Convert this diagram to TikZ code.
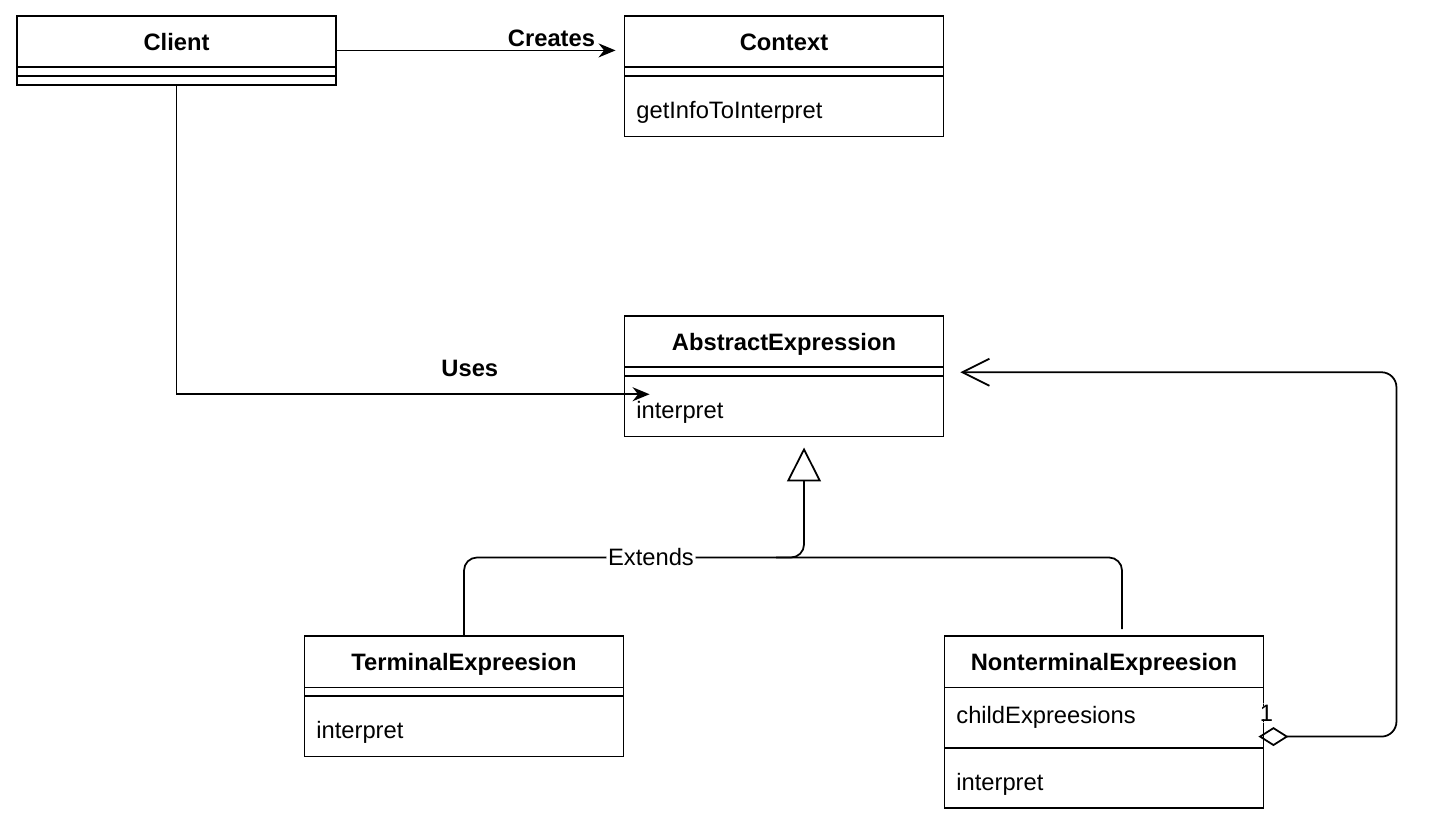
\documentclass[tikz,border=0pt]{standalone}
\usepackage{fontspec}
\setmainfont{Liberation Sans}
\usepackage{tikz}
\usepackage{pgf-umlcd}
\usetikzlibrary{arrows.meta,calc}

\def\umlfillcolor{white}
\def\umldrawcolor{black}
\newcommand{\opstrut}{\rule[-7.9pt]{0pt}{29.4pt}}
\newcommand{\attrstrut}{\rule[-11.3pt]{0pt}{29.4pt}}

\tikzset{
  umlbox/.style={line width=1pt, text width=168pt, inner xsep=6.8pt, inner ysep=2pt,
    text height=17pt, text depth=7.3pt,
    rectangle split empty part height=0pt, rectangle split empty part depth=0pt},
  umlline/.style={line width=1pt},
  umlarrow/.style={umlline, -{Stealth[length=0.34cm,width=0.28cm]}}
}

\begin{document}
\begin{tikzpicture}[font=\fontsize{13.5}{16}\selectfont, line width=1pt]
\useasboundingbox (0,0) rectangle (28.96,-16.62);

\begin{class}[umlbox]{Client}{3.53,-0.3}
\end{class}
\begin{class}[umlbox]{Context}{15.68,-0.3}
\operation{\opstrut getInfoToInterpret}
\end{class}
\begin{class}[umlbox]{AbstractExpression}{15.68,-6.3}
\operation{\opstrut interpret}
\end{class}
\begin{class}[umlbox]{TerminalExpreesion}{9.28,-12.7}
\operation{\opstrut interpret}
\end{class}
\begin{class}[umlbox]{NonterminalExpreesion}{22.08,-12.7}
\attribute{\attrstrut childExpreesions}
\operation{\opstrut interpret}
\end{class}

\coordinate (usesEnd) at ([shift={(0.52,-0.36)}]AbstractExpression.west);
\coordinate (extendsTip) at ([shift={(0.4,-0.2)}]AbstractExpression.south);
\coordinate (aggStart) at ([shift={(-0.12,-0.29)}]NonterminalExpreesion.east);
\coordinate (aggEnd) at ([shift={(0.32,0.08)}]AbstractExpression.east);

\draw[umlarrow] (Client.east) -- node[pos=0.77, above, inner sep=1pt, yshift=0.02cm, font=\fontsize{13.5}{16}\selectfont\bfseries]{Creates} ([xshift=-0.16cm]Client.east -| Context.west);
\draw[umlarrow] (Client.south) |- node[pos=0.81, above=0.21cm, font=\fontsize{13.5}{16}\selectfont\bfseries]{Uses} (usesEnd);
\draw[umlline, rounded corners=0.26cm, -{Triangle[open,length=0.68cm,width=0.68cm]}] (TerminalExpreesion.north) |- node[pos=0.775, fill=white, inner sep=1pt]{Extends} ([yshift=-2.2cm]extendsTip) -- (extendsTip);
\draw[umlline, rounded corners=0.26cm] ([shift={(0.36,0.12)}]NonterminalExpreesion.north) |- ([shift={(-0.56,-2.2)}]extendsTip);
\draw[umlline, rounded corners=0.3cm, {Diamond[open,length=0.6cm,width=0.38cm]}-{Straight Barb[length=0.54cm,width=0.54cm]}] (aggStart) -- node[pos=0, anchor=base, xshift=0.16cm, yshift=0.31cm, fill=white, inner sep=1pt]{1} ++(2.76,0) |- (aggEnd);
\end{tikzpicture}
\end{document}
